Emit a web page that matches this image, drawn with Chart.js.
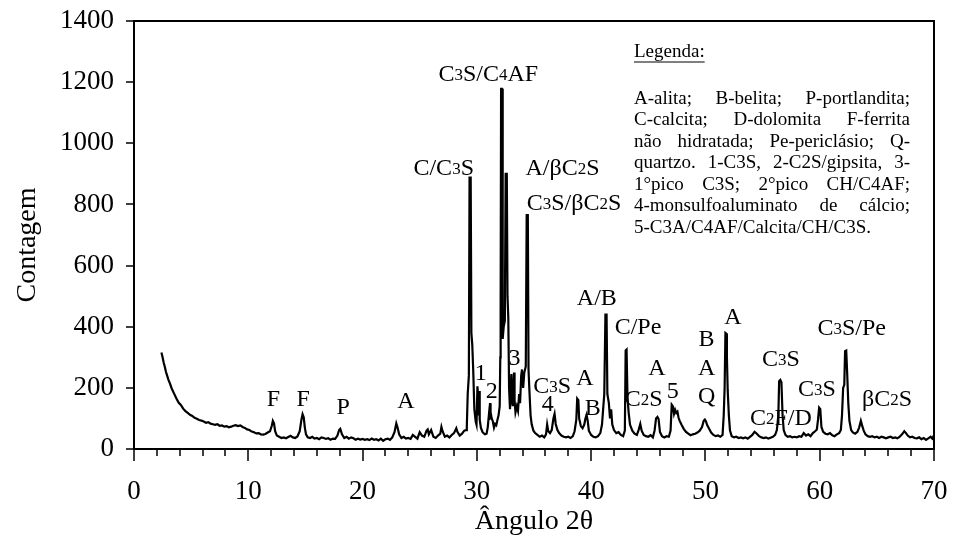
<!DOCTYPE html>
<html lang="pt">
<head>
<meta charset="utf-8">
<title>Difratograma de raios X</title>
<script src="https://cdn.jsdelivr.net/npm/chart.js@4.4.1/dist/chart.umd.min.js"></script>
<style>
  html, body { margin: 0; padding: 0; background: #fff; }
  #wrap { width: 954px; height: 545px; }
</style>
</head>
<body>
<div id="wrap"><canvas id="chart" width="954" height="545"></canvas></div>
<script>
// Difratograma: [ângulo 2θ, contagem], em trechos
const scanLowAngle = [
  [2.4, 316], [2.5, 300], [2.6, 282], [2.7, 268], [2.8, 252], [2.9, 240], [3.0, 228], [3.15, 214],
  [3.3, 198], [3.5, 182], [3.7, 166], [3.9, 152], [4.1, 144], [4.3, 132], [4.5, 124], [4.7, 118],
  [4.9, 112], [5.1, 108], [5.3, 102], [5.5, 99], [5.7, 95], [5.9, 93], [6.1, 90], [6.3, 86],
  [6.5, 88], [6.7, 83], [6.9, 81], [7.1, 79], [7.3, 81], [7.5, 76], [7.7, 77], [7.9, 73],
  [8.1, 75], [8.3, 71], [8.5, 73], [8.7, 76], [8.9, 78], [9.1, 75], [9.3, 77], [9.5, 72],
  [9.7, 69], [9.9, 64], [10.1, 62], [10.3, 57], [10.5, 55], [10.7, 51], [10.9, 52], [11.1, 48],
  [11.3, 47], [11.5, 49], [11.7, 54], [11.9, 58], [12.05, 75], [12.15, 92], [12.25, 84], [12.35, 58],
  [12.5, 44], [12.7, 40], [12.9, 36], [13.1, 38], [13.3, 35], [13.5, 39], [13.7, 43], [13.9, 38],
  [14.1, 36], [14.3, 41], [14.5, 58], [14.65, 96], [14.75, 114], [14.85, 104], [14.95, 70], [15.05, 48],
  [15.2, 38], [15.4, 36], [15.6, 40], [15.8, 34], [16.0, 36], [16.2, 32], [16.4, 38], [16.6, 36],
  [16.8, 33], [17.0, 35], [17.2, 30], [17.4, 34], [17.6, 33], [17.8, 44], [17.95, 62], [18.05, 66],
  [18.2, 48], [18.4, 36], [18.6, 40], [18.8, 34], [19.0, 38], [19.2, 35], [19.4, 30], [19.6, 34],
  [19.8, 31], [20.0, 33], [20.2, 30], [20.4, 32], [20.6, 29], [20.8, 34], [21.0, 30], [21.2, 32],
  [21.4, 28], [21.6, 34], [21.8, 27], [22.0, 32], [22.2, 34], [22.4, 30], [22.6, 38], [22.8, 56],
  [22.95, 84], [23.05, 72], [23.2, 48], [23.4, 36], [23.6, 40], [23.8, 34], [24.0, 36], [24.2, 33],
  [24.4, 46], [24.6, 40], [24.8, 34], [25.0, 55], [25.2, 44], [25.4, 40], [25.6, 60], [25.7, 64],
  [25.8, 48], [26.0, 62], [26.2, 40], [26.4, 36], [26.6, 44], [26.8, 50], [26.9, 72], [27.0, 58],
  [27.2, 40], [27.4, 44], [27.6, 38], [27.8, 46], [28.0, 52], [28.2, 68], [28.3, 56], [28.5, 44],
  [28.7, 50], [28.9, 60], [29.05, 62]
];

const scanMainPeaks = [
  [29.12, 72], [29.2, 180], [29.3, 240], [29.36, 888], [29.46, 888], [29.52, 380], [29.6, 340], [29.68, 260],
  [29.78, 130], [29.9, 90], [29.97, 80], [30.05, 205], [30.1, 180], [30.15, 110], [30.2, 190], [30.25, 95],
  [30.35, 70], [30.5, 55], [30.7, 48], [30.85, 50], [30.95, 70], [31.05, 110], [31.1, 95], [31.15, 150],
  [31.2, 120], [31.3, 100], [31.4, 90], [31.5, 70], [31.6, 82], [31.7, 78], [31.8, 95], [31.9, 110],
  [32.0, 140], [32.05, 300], [32.08, 440], [32.12, 1178], [32.2, 1178], [32.26, 360], [32.35, 400], [32.45, 420],
  [32.52, 900], [32.62, 900], [32.68, 500], [32.75, 430], [32.82, 200], [32.9, 130], [33.02, 245], [33.08, 160],
  [33.14, 140], [33.25, 250], [33.3, 160], [33.38, 120], [33.5, 140], [33.6, 125], [33.7, 180], [33.78, 150],
  [33.88, 240], [33.95, 260], [34.05, 200], [34.15, 250], [34.28, 270], [34.36, 765], [34.46, 765], [34.52, 260],
  [34.6, 190], [34.7, 110], [34.8, 80], [34.95, 60]
];

const scanMidAngle = [
  [35.1, 52], [35.3, 46], [35.5, 40], [35.7, 44], [35.9, 38], [36.05, 48], [36.15, 80], [36.25, 58],
  [36.4, 52], [36.55, 62], [36.7, 100], [36.8, 115], [36.9, 82], [37.05, 62], [37.2, 52], [37.4, 44],
  [37.6, 40], [37.8, 38], [38.0, 40], [38.2, 36], [38.4, 42], [38.55, 58], [38.7, 95], [38.78, 165],
  [38.88, 160], [38.95, 100], [39.1, 75], [39.25, 68], [39.4, 80], [39.5, 100], [39.6, 112], [39.7, 92],
  [39.8, 60], [40.0, 46], [40.2, 40], [40.4, 38], [40.6, 42], [40.8, 52], [40.95, 80], [41.05, 130],
  [41.15, 180], [41.25, 440], [41.35, 440], [41.42, 180], [41.55, 150], [41.65, 100], [41.75, 130], [41.85, 80],
  [42.0, 62], [42.2, 52], [42.4, 55], [42.6, 46], [42.8, 42], [42.95, 60], [43.02, 322], [43.1, 325],
  [43.18, 170], [43.28, 120], [43.4, 80], [43.6, 60], [43.8, 50], [44.0, 46], [44.15, 62], [44.3, 82],
  [44.42, 60], [44.6, 46], [44.8, 42], [45.0, 40], [45.2, 45], [45.4, 38], [45.55, 60], [45.68, 100],
  [45.8, 105], [45.9, 98], [46.02, 56], [46.2, 42], [46.4, 38], [46.6, 42], [46.8, 40], [46.95, 60],
  [47.05, 145], [47.15, 140], [47.25, 115], [47.35, 128], [47.45, 118], [47.55, 122], [47.65, 102], [47.75, 92],
  [47.9, 80], [48.1, 66], [48.3, 56], [48.5, 50], [48.7, 45], [48.9, 48], [49.1, 50], [49.3, 54],
  [49.5, 60], [49.7, 72], [49.85, 92], [49.95, 96], [50.05, 90], [50.15, 78], [50.3, 68], [50.5, 54],
  [50.7, 46], [50.9, 42], [51.1, 44], [51.3, 40], [51.5, 46], [51.6, 110], [51.68, 200], [51.75, 380],
  [51.82, 378], [51.88, 300], [51.95, 190], [52.05, 110], [52.15, 60], [52.3, 42]
];

const scanHighAngle = [
  [52.5, 38], [52.7, 40], [52.9, 36], [53.1, 38], [53.3, 35], [53.5, 38], [53.7, 34], [53.9, 40],
  [54.1, 46], [54.3, 56], [54.5, 50], [54.7, 42], [54.9, 38], [55.1, 36], [55.3, 38], [55.5, 34],
  [55.7, 37], [55.9, 40], [56.1, 46], [56.25, 62], [56.38, 110], [56.45, 222], [56.55, 226], [56.65, 218],
  [56.75, 110], [56.85, 62], [57.0, 46], [57.2, 40], [57.4, 42], [57.6, 38], [57.8, 40], [58.0, 38],
  [58.2, 42], [58.4, 40], [58.6, 52], [58.8, 44], [59.0, 48], [59.2, 42], [59.4, 52], [59.6, 58],
  [59.75, 64], [59.85, 95], [59.95, 135], [60.05, 130], [60.15, 72], [60.3, 56], [60.5, 50], [60.7, 48],
  [60.9, 52], [61.1, 45], [61.3, 42], [61.5, 48], [61.7, 52], [61.85, 62], [61.95, 110], [62.05, 200],
  [62.15, 210], [62.22, 320], [62.32, 322], [62.4, 250], [62.5, 150], [62.6, 92], [62.75, 62], [62.9, 54],
  [63.1, 50], [63.3, 56], [63.45, 70], [63.6, 92], [63.7, 78], [63.85, 60], [64.0, 48], [64.2, 42],
  [64.4, 40], [64.6, 42], [64.8, 38], [65.0, 40], [65.2, 36], [65.4, 40], [65.6, 38], [65.8, 35],
  [66.0, 38], [66.2, 40], [66.4, 36], [66.6, 38], [66.8, 35], [67.0, 40], [67.2, 48], [67.4, 58],
  [67.55, 52], [67.7, 44], [67.9, 38], [68.1, 40], [68.3, 36], [68.5, 35], [68.7, 38], [68.9, 32],
  [69.1, 36], [69.3, 30], [69.5, 35], [69.7, 40], [69.85, 34], [70.0, 45]
];

const xTickLabels = [0, 10, 20, 30, 40, 50, 60, 70];
const yTickLabels = [0, 200, 400, 600, 800, 1000, 1200, 1400];

// identificação dos picos: texto e posição (2θ, contagem) do centro do rótulo
const peakLabels = [
  { text: 'F', at: [12.2, 166] },
  { text: 'F', at: [14.8, 166] },
  { text: 'P', at: [18.3, 141] },
  { text: 'A', at: [23.8, 160] },
  { text: 'C/C3S', at: [27.1, 922] },
  { text: 'C3S/C4AF', at: [31.0, 1230] },
  { text: '1', at: [30.35, 252] },
  { text: '2', at: [31.3, 193] },
  { text: '3', at: [33.3, 301] },
  { text: 'A/βC2S', at: [37.5, 922] },
  { text: 'C3S/βC2S', at: [38.5, 808] },
  { text: 'C3S', at: [36.6, 209] },
  { text: '4', at: [36.2, 150] },
  { text: 'A', at: [39.45, 236] },
  { text: 'B', at: [40.15, 137] },
  { text: 'A/B', at: [40.5, 497] },
  { text: 'C/Pe', at: [44.1, 402] },
  { text: 'C2S', at: [44.6, 167] },
  { text: 'A', at: [45.75, 268] },
  { text: '5', at: [47.15, 193] },
  { text: 'B', at: [50.1, 363] },
  { text: 'A', at: [50.1, 268] },
  { text: 'Q', at: [50.1, 177] },
  { text: 'A', at: [52.4, 435] },
  { text: 'C3S', at: [56.6, 298] },
  { text: 'C2F/D', at: [56.6, 105] },
  { text: 'C3S', at: [59.75, 200] },
  { text: 'C3S/Pe', at: [62.8, 399] },
  { text: 'βC2S', at: [65.9, 167] }
];

const legendTitle = 'Legenda:';
const legendLines = [
  'A-alita; B-belita; P-portlandita;',
  'C-calcita; D-dolomita F-ferrita',
  'não hidratada; Pe-periclásio; Q-',
  'quartzo. 1-C3S, 2-C2S/gipsita, 3-',
  '1°pico C3S; 2°pico CH/C4AF;',
  '4-monsulfoaluminato de cálcio;',
  '5-C3A/C4AF/Calcita/CH/C3S.'
];

const FONT = '"Liberation Serif", "Times New Roman", Times, serif';

const points = [...scanLowAngle, ...scanMainPeaks, ...scanMidAngle, ...scanHighAngle]
  .map(([x, y]) => ({ x, y }));

// texto com algarismos menores (C3S, C4AF...)
function drawPeakLabel(ctx, text, cx, cy, size) {
  const singleDigit = /^\d$/.test(text);
  const parts = [];
  for (const ch of text) {
    const small = !singleDigit && /\d/.test(ch);
    const last = parts[parts.length - 1];
    if (last && last.small === small) last.s += ch;
    else parts.push({ s: ch, small });
  }
  const big = size + 'px ' + FONT;
  const little = Math.round(size * 0.72) + 'px ' + FONT;
  let total = 0;
  parts.forEach((p) => {
    ctx.font = p.small ? little : big;
    p.w = ctx.measureText(p.s).width;
    total += p.w;
  });
  let x = cx - total / 2;
  const base = cy + size * 0.33;
  parts.forEach((p) => {
    ctx.font = p.small ? little : big;
    ctx.fillText(p.s, x, base - (p.small ? size * 0.04 : 0));
    x += p.w;
  });
}

const decorations = {
  id: 'decorations',
  afterDraw(chart) {
    const { ctx, chartArea: a, scales: { x, y } } = chart;
    ctx.save();
    ctx.fillStyle = '#000';
    ctx.strokeStyle = '#000';

    // moldura
    ctx.lineWidth = 2;
    ctx.strokeRect(a.left, a.top, a.right - a.left, a.bottom - a.top);

    // marcas dos eixos
    ctx.lineWidth = 1.5;
    ctx.beginPath();
    for (let v = 0; v <= 70; v += 2) {
      const px = Math.round(x.getPixelForValue(v));
      const len = xTickLabels.includes(v) ? 12 : 7;
      ctx.moveTo(px, a.bottom);
      ctx.lineTo(px, a.bottom + len);
    }
    yTickLabels.forEach((v) => {
      const py = Math.round(y.getPixelForValue(v));
      ctx.moveTo(a.left - 8, py);
      ctx.lineTo(a.left, py);
    });
    ctx.stroke();

    // títulos dos eixos
    ctx.textAlign = 'center';
    ctx.textBaseline = 'middle';
    ctx.font = '28px ' + FONT;
    ctx.fillText('Ângulo 2θ', (a.left + a.right) / 2, 522);
    ctx.save();
    ctx.translate(28, 245);
    ctx.rotate(-Math.PI / 2);
    ctx.fillText('Contagem', 0, 0);
    ctx.restore();

    // rótulos dos picos
    ctx.textAlign = 'left';
    ctx.textBaseline = 'alphabetic';
    peakLabels.forEach((l) => {
      drawPeakLabel(ctx, l.text, x.getPixelForValue(l.at[0]), y.getPixelForValue(l.at[1]), 24);
    });

    // quadro da legenda, texto justificado
    const left = 634, right = 910, size = 19;
    ctx.font = size + 'px ' + FONT;
    ctx.textBaseline = 'middle';
    ctx.fillText(legendTitle, left, 52);
    const tw = ctx.measureText(legendTitle).width;
    ctx.lineWidth = 1;
    ctx.beginPath();
    ctx.moveTo(left, 62);
    ctx.lineTo(left + tw, 62);
    ctx.stroke();
    legendLines.forEach((line, i) => {
      const cy = 99 + i * 21.5;
      const words = line.split(' ');
      if (i === legendLines.length - 1 || words.length < 2) {
        ctx.fillText(line, left, cy);
        return;
      }
      const widths = words.map((w) => ctx.measureText(w).width);
      const used = widths.reduce((s, w) => s + w, 0);
      const gap = (right - left - used) / (words.length - 1);
      let px = left;
      words.forEach((w, k) => {
        ctx.fillText(w, px, cy);
        px += widths[k] + gap;
      });
    });
    ctx.restore();
  }
};

new Chart(document.getElementById('chart'), {
  type: 'line',
  data: {
    datasets: [{
      data: points,
      borderColor: '#000',
      borderWidth: 2.2,
      pointRadius: 0,
      tension: 0,
      fill: false
    }]
  },
  plugins: [decorations],
  options: {
    responsive: false,
    animation: false,
    devicePixelRatio: 1,
    layout: { padding: { top: 21, right: 20, left: 0, bottom: 0 } },
    plugins: { legend: { display: false }, tooltip: { enabled: false } },
    scales: {
      x: {
        type: 'linear',
        min: 0,
        max: 70,
        grid: { display: false, drawTicks: false },
        border: { display: false },
        ticks: {
          stepSize: 10,
          autoSkip: false,
          maxRotation: 0,
          padding: 27,
          color: '#000',
          font: { family: FONT, size: 27 },
          callback: (v) => (xTickLabels.includes(v) ? String(v) : '')
        },
        afterFit: (s) => { s.height = 96; s.paddingLeft = 0; s.paddingRight = 0; }
      },
      y: {
        min: 0,
        max: 1400,
        grid: { display: false, drawTicks: false },
        border: { display: false },
        ticks: {
          stepSize: 200,
          padding: 20,
          color: '#000',
          font: { family: FONT, size: 27 },
          callback: (v) => (yTickLabels.includes(v) ? String(v) : '')
        },
        afterFit: (s) => { s.width = 134; s.paddingTop = 0; s.paddingBottom = 0; }
      }
    }
  }
});
</script>
</body>
</html>
